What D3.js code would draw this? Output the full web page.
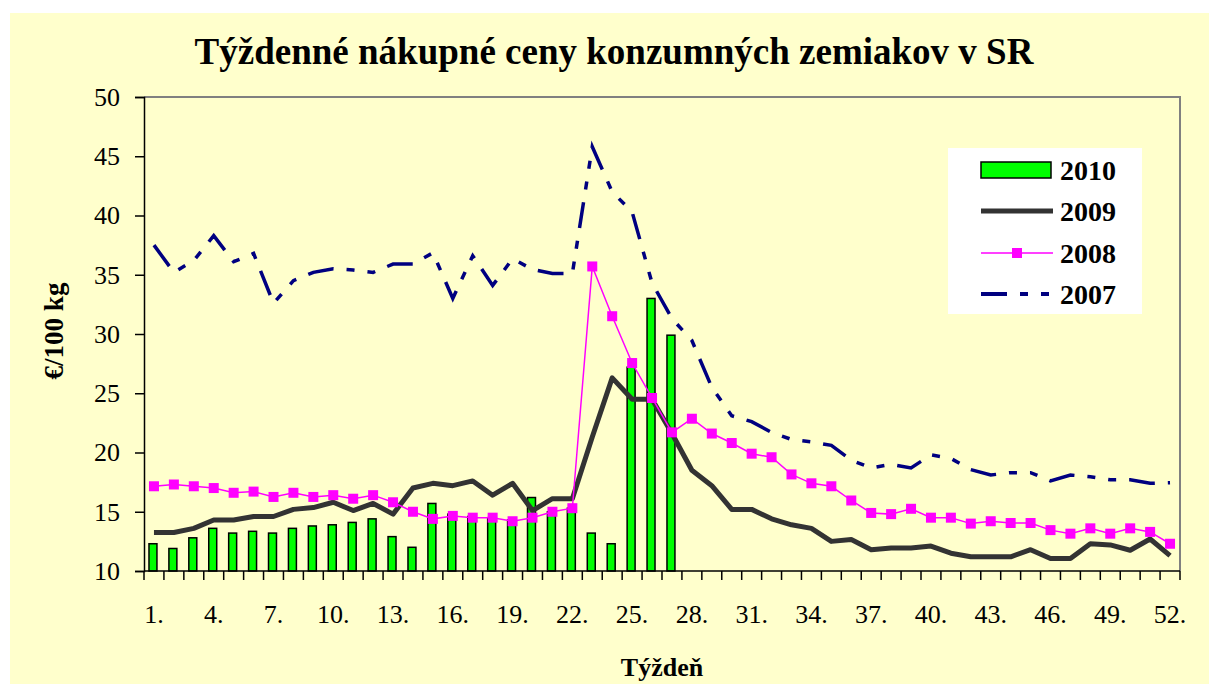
<!DOCTYPE html>
<html>
<head>
<meta charset="utf-8">
<script src="https://cdn.jsdelivr.net/npm/d3@7"></script>
<style>
    body { margin: 0; background: #fff; }
    svg { display: block; }
    text { font-family: "Liberation Serif", "Times New Roman", serif; fill: #000; }
</style>
</head>
<body>
<svg id="chart" width="1209" height="684"></svg>
<script>
// Week categories and tick labels
const weeks = [1,2,3,4,5,6,7,8,9,10,11,12,13,14,15,16,17,18,19,20,21,22,23,24,25,26,
               27,28,29,30,31,32,33,34,35,36,37,38,39,40,41,42,43,44,45,46,47,48,49,50,51,52];
const labelWeeks = [1,4,7,10,13,16,19,22,25,28,31,34,37,40,43,46,49,52];
const yTicks = [10,15,20,25,30,35,40,45,50];

// 2010 – bars (only weeks 1..27 available)
const v2010 = [12.3, 11.9, 12.8, 13.6, 13.2, 13.35, 13.2, 13.6, 13.8, 13.9,
               14.1, 14.4, 12.9, 12.0, 15.7, 14.8, 14.6, 14.5, 14.3, 16.2,
               15.0, 15.3, 13.2, 12.3, 27.2, 33.0, 29.9];
// 2009 – thick dark line
const v2009 = [13.25, 13.25, 13.6, 14.3, 14.3, 14.6, 14.6, 15.2, 15.35, 15.8,
               15.1, 15.7, 14.8, 17.0, 17.4, 17.2, 17.6, 16.4, 17.4, 15.1,
               16.1, 16.1, 21.3, 26.3, 24.5, 24.5, 21.6, 18.5, 17.2, 15.2,
               15.2, 14.4, 13.9, 13.6, 12.5, 12.65, 11.8, 11.95, 11.95, 12.1,
               11.5, 11.2, 11.2, 11.2, 11.8, 11.05, 11.05, 12.3, 12.2, 11.75, 12.7, 11.3];
// 2008 – magenta line with square markers
const v2008 = [17.15, 17.3, 17.15, 17.0, 16.6, 16.7, 16.25, 16.6, 16.25, 16.4,
               16.1, 16.4, 15.8, 15.0, 14.4, 14.65, 14.5, 14.5, 14.2, 14.5,
               15.0, 15.3, 35.7, 31.5, 27.55, 24.6, 21.7, 22.85, 21.6, 20.8,
               19.9, 19.6, 18.15, 17.4, 17.15, 15.95, 14.9, 14.8, 15.25, 14.5,
               14.5, 14.0, 14.2, 14.05, 14.05, 13.45, 13.15, 13.6, 13.15, 13.6, 13.3, 12.3];
// 2007 – navy dash-dot-dot line
const v2007 = [37.5, 35.2, 36.2, 38.3, 36.1, 36.8, 32.6, 34.5, 35.2, 35.5,
               35.4, 35.2, 35.9, 35.9, 36.85, 33.0, 36.6, 34.1, 36.35, 35.45,
               35.1, 35.1, 45.8, 42.0, 40.3, 34.3, 31.3, 29.45, 25.5, 23.1,
               22.6, 21.7, 21.1, 20.9, 20.6, 19.35, 18.7, 19.0, 18.7, 19.8,
               19.5, 18.55, 18.1, 18.3, 18.3, 17.6, 18.1, 17.95, 17.7, 17.7, 17.4, 17.45];

const seriesNames = ['2010', '2009', '2008', '2007'];

const svg = d3.select('#chart');
const plot = { left: 144, top: 97, right: 1180, bottom: 571 };

// chart area background
svg.append('rect')
    .attr('x', 10).attr('y', 13)
    .attr('width', 1199).attr('height', 671)
    .attr('fill', '#FFFFCC');

const x = d3.scaleBand()
    .domain(weeks)
    .range([plot.left, plot.right]);

const y = d3.scaleLinear()
    .domain([10, 50])
    .range([plot.bottom, plot.top]);

const cx = d => x(d) + x.bandwidth() / 2;

// plot frame (top and right in grey)
svg.append('path')
    .attr('d', `M${plot.left},${plot.top}H${plot.right}V${plot.bottom}`)
    .attr('fill', 'none')
    .attr('stroke', '#808080')
    .attr('stroke-width', 2);

// bars 2010
const barW = x.bandwidth() * 0.4;
svg.append('g')
    .selectAll('rect')
    .data(v2010)
    .join('rect')
    .attr('x', (d, i) => cx(weeks[i]) - barW / 2 - 1)
    .attr('y', d => y(d))
    .attr('width', barW)
    .attr('height', d => y(10) - y(d))
    .attr('fill', '#00FF00')
    .attr('stroke', '#000')
    .attr('stroke-width', 1.5);

const line = d3.line()
    .x((d, i) => cx(weeks[i]))
    .y(d => y(d));

// 2007
svg.append('path')
    .attr('d', line(v2007))
    .attr('fill', 'none')
    .attr('stroke', '#000080')
    .attr('stroke-width', 3.5)
    .attr('stroke-dasharray', '26,13,8,13,8,13');

// 2009
svg.append('path')
    .attr('d', line(v2009))
    .attr('fill', 'none')
    .attr('stroke', '#333333')
    .attr('stroke-width', 5)
    .attr('stroke-linejoin', 'round');

// 2008
svg.append('path')
    .attr('d', line(v2008))
    .attr('fill', 'none')
    .attr('stroke', '#FF00FF')
    .attr('stroke-width', 1.5);

svg.append('g')
    .selectAll('rect')
    .data(v2008)
    .join('rect')
    .attr('x', (d, i) => cx(weeks[i]) - 5)
    .attr('y', d => y(d) - 5)
    .attr('width', 10)
    .attr('height', 10)
    .attr('fill', '#FF00FF');

// y axis
const yAxis = svg.append('g')
    .attr('transform', `translate(${plot.left},0)`)
    .call(d3.axisLeft(y).tickValues(yTicks).tickSize(9).tickPadding(15));
yAxis.select('.domain').attr('stroke', '#000').attr('stroke-width', 1.5);
yAxis.selectAll('.tick line').attr('stroke', '#000').attr('stroke-width', 1.5);
yAxis.selectAll('.tick text')
    .attr('font-size', '26px')
    .attr('font-family', '"Liberation Serif", "Times New Roman", serif');

// x axis: baseline, boundary ticks and labels
svg.append('line')
    .attr('x1', plot.left).attr('x2', plot.right)
    .attr('y1', plot.bottom).attr('y2', plot.bottom)
    .attr('stroke', '#000')
    .attr('stroke-width', 1.5);

const bounds = weeks.map(w => x(w)).concat([x.range()[1]]);
svg.append('g')
    .selectAll('line')
    .data(bounds)
    .join('line')
    .attr('x1', d => d).attr('x2', d => d)
    .attr('y1', plot.bottom).attr('y2', plot.bottom + 9)
    .attr('stroke', '#000')
    .attr('stroke-width', 1.5);

const xAxis = svg.append('g')
    .attr('transform', `translate(0,${plot.bottom})`)
    .call(d3.axisBottom(x).tickValues(labelWeeks).tickFormat(d => d + '.').tickSize(0).tickPadding(34));
xAxis.select('.domain').remove();
xAxis.selectAll('.tick text')
    .attr('font-size', '26px')
    .attr('font-family', '"Liberation Serif", "Times New Roman", serif');

// title
svg.append('text')
    .attr('x', 614)
    .attr('y', 64)
    .attr('text-anchor', 'middle')
    .attr('font-size', '37px')
    .attr('font-weight', 'bold')
    .text('Týždenné nákupné ceny konzumných zemiakov v SR');

// axis titles
svg.append('text')
    .attr('transform', 'translate(63,331) rotate(-90)')
    .attr('text-anchor', 'middle')
    .attr('font-size', '27px')
    .attr('font-weight', 'bold')
    .text('€/100 kg');

svg.append('text')
    .attr('x', 662)
    .attr('y', 676)
    .attr('text-anchor', 'middle')
    .attr('font-size', '26px')
    .attr('font-weight', 'bold')
    .text('Týždeň');

// legend
const legend = svg.append('g');
legend.append('rect')
    .attr('x', 948).attr('y', 148)
    .attr('width', 194).attr('height', 166)
    .attr('fill', '#fff');

const rowY = [170, 211, 253, 294];
const items = legend.selectAll('g.item')
    .data(seriesNames)
    .join('g')
    .attr('class', 'item')
    .attr('transform', (d, i) => `translate(0,${rowY[i]})`);

items.append('text')
    .attr('x', 1060)
    .attr('y', 10)
    .attr('font-size', '28px')
    .attr('font-weight', 'bold')
    .text(d => d);

items.filter(d => d === '2010').append('rect')
    .attr('x', 981).attr('y', -8)
    .attr('width', 70).attr('height', 16)
    .attr('fill', '#00FF00')
    .attr('stroke', '#000')
    .attr('stroke-width', 1.5);

items.filter(d => d === '2009').append('line')
    .attr('x1', 981).attr('x2', 1053)
    .attr('stroke', '#333333')
    .attr('stroke-width', 5);

items.filter(d => d === '2008').append('line')
    .attr('x1', 981).attr('x2', 1053)
    .attr('stroke', '#FF00FF')
    .attr('stroke-width', 1.5);
items.filter(d => d === '2008').append('rect')
    .attr('x', 1012).attr('y', -5)
    .attr('width', 10).attr('height', 10)
    .attr('fill', '#FF00FF');

items.filter(d => d === '2007').append('line')
    .attr('x1', 981).attr('x2', 1053)
    .attr('stroke', '#000080')
    .attr('stroke-width', 4)
    .attr('stroke-dasharray', '26,13,8,13,8,13');
</script>
</body>
</html>
